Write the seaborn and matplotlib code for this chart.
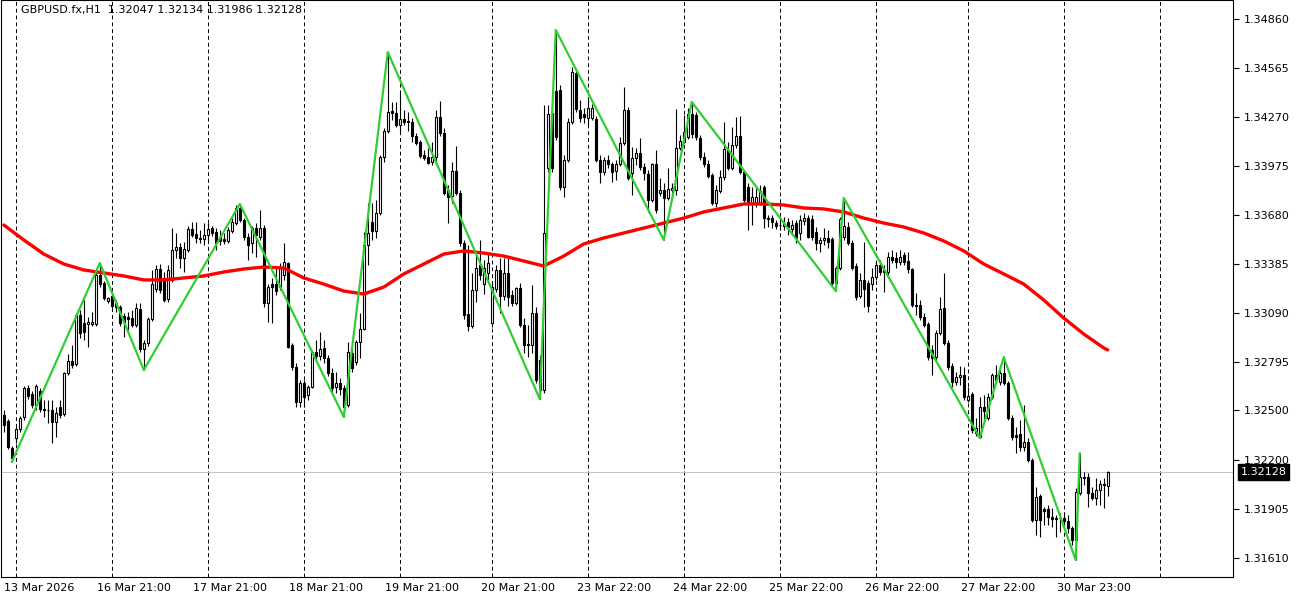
import matplotlib
matplotlib.use("Agg")
import matplotlib.pyplot as plt
import matplotlib.transforms as mtransforms
import numpy as np
import pandas as pd
import seaborn as sns

# ── GBPUSD.fx H1, bar 0 = first bar on the chart (13 Mar 2026) ───────────────
open_ = [
    1.32473, 1.32436, 1.32274, 1.32334, 1.32388, 1.32461, 1.32635, 1.32599, 1.32533, 1.32617, 1.32509, 1.32503,
    1.32503, 1.32430, 1.32521, 1.32479, 1.32726, 1.32798, 1.32780, 1.33076, 1.33027, 1.33021, 1.33021, 1.33021,
    1.33317, 1.33268, 1.33160, 1.33190, 1.33148, 1.33124, 1.33070, 1.33063, 1.33057, 1.33015, 1.33112, 1.32870,
    1.32907, 1.33051, 1.33230, 1.33353, 1.33299, 1.33172, 1.33287, 1.33468, 1.33486, 1.33419, 1.33468, 1.33594,
    1.33564, 1.33540, 1.33534, 1.33558, 1.33600, 1.33576, 1.33546, 1.33534, 1.33522, 1.33582, 1.33630, 1.33721,
    1.33648, 1.33546, 1.33510, 1.33600, 1.33546, 1.33600, 1.33148, 1.33262, 1.33262, 1.33244, 1.33317, 1.33389,
    1.32895, 1.32762, 1.32551, 1.32666, 1.32593, 1.32641, 1.32852, 1.32828, 1.32877, 1.32816, 1.32726, 1.32641,
    1.32666, 1.32635, 1.32533, 1.32846, 1.32792, 1.32913, 1.32991, 1.33498, 1.33636, 1.33582, 1.33691, 1.34028,
    1.34185, 1.34306, 1.34294, 1.34221, 1.34257, 1.34245, 1.34239, 1.34155, 1.34119, 1.34040, 1.34028, 1.33998,
    1.34028, 1.34270, 1.34173, 1.33829, 1.33793, 1.33944, 1.33811, 1.33510, 1.33082, 1.33009, 1.33226, 1.33377,
    1.33262, 1.33329, 1.33027, 1.33232, 1.33347, 1.33190, 1.33329, 1.33196, 1.33148, 1.33238, 1.33015, 1.32901,
    1.32895, 1.33088, 1.32804, 1.32623, 1.33962, 1.34294, 1.34426, 1.34432, 1.33847, 1.34010, 1.34239, 1.34535,
    1.34312, 1.34288, 1.34263, 1.34263, 1.34257, 1.34010, 1.33938, 1.34010, 1.33986, 1.33944, 1.33986, 1.34113,
    1.34312, 1.33932, 1.34022, 1.34052, 1.33968, 1.33926, 1.33769, 1.33986, 1.33811, 1.33829, 1.33781, 1.33829,
    1.33829, 1.34083, 1.34119, 1.34149, 1.34288, 1.34282, 1.34143, 1.34028, 1.33986, 1.33920, 1.33751, 1.33823,
    1.33907, 1.34071, 1.33962, 1.34101, 1.34155, 1.33938, 1.33847, 1.33751, 1.33751, 1.33751, 1.33847, 1.33660,
    1.33660, 1.33630, 1.33618, 1.33612, 1.33636, 1.33594, 1.33630, 1.33570, 1.33642, 1.33660, 1.33654, 1.33576,
    1.33510, 1.33528, 1.33540, 1.33534, 1.33268, 1.33359, 1.33546, 1.33606, 1.33510, 1.33371, 1.33190, 1.33287,
    1.33268, 1.33262, 1.33305, 1.33377, 1.33347, 1.33335, 1.33425, 1.33419, 1.33395, 1.33437, 1.33401, 1.33353,
    1.33136, 1.33136, 1.33063, 1.33021, 1.32865, 1.32822, 1.32967, 1.33118, 1.32907, 1.32768, 1.32672, 1.32702,
    1.32714, 1.32563, 1.32599, 1.32364, 1.32340, 1.32521, 1.32454, 1.32581, 1.32714, 1.32672, 1.32726, 1.32666,
    1.32454, 1.32352, 1.32358, 1.32280, 1.32310, 1.32201, 1.31839, 1.31984, 1.31906, 1.31906, 1.31858, 1.31846,
    1.31852, 1.31852, 1.31834, 1.31792, 1.31719, 1.32002, 1.32093, 1.32099, 1.32002, 1.31972, 1.32020, 1.32057,
    1.32047,
]
high = [
    1.32503, 1.32448, 1.32286, 1.32400, 1.32467, 1.32647, 1.32653, 1.32617, 1.32659, 1.32635, 1.32563, 1.32563,
    1.32563, 1.32521, 1.32563, 1.32732, 1.32840, 1.32895, 1.33088, 1.33106, 1.33166, 1.33063, 1.33094, 1.33347,
    1.33389, 1.33281, 1.33184, 1.33208, 1.33166, 1.33136, 1.33088, 1.33094, 1.33106, 1.33148, 1.33148, 1.32925,
    1.33063, 1.33347, 1.33377, 1.33383, 1.33335, 1.33377, 1.33600, 1.33570, 1.33510, 1.33516, 1.33612, 1.33636,
    1.33636, 1.33588, 1.33630, 1.33630, 1.33612, 1.33600, 1.33588, 1.33570, 1.33606, 1.33660, 1.33739, 1.33745,
    1.33660, 1.33570, 1.33612, 1.33630, 1.33709, 1.33618, 1.33262, 1.33299, 1.33359, 1.33389, 1.33510, 1.33395,
    1.32907, 1.32786, 1.32684, 1.32684, 1.32653, 1.32865, 1.32925, 1.32973, 1.32925, 1.32834, 1.32756, 1.32732,
    1.32696, 1.32653, 1.32913, 1.32883, 1.32925, 1.33088, 1.33576, 1.33751, 1.33751, 1.33769, 1.34040, 1.34203,
    1.34661, 1.34360, 1.34360, 1.34420, 1.34312, 1.34300, 1.34263, 1.34173, 1.34131, 1.34071, 1.34083, 1.34119,
    1.34312, 1.34366, 1.34203, 1.33859, 1.33998, 1.34095, 1.33829, 1.33528, 1.33498, 1.33329, 1.33437, 1.33528,
    1.33407, 1.33449, 1.33275, 1.33377, 1.33419, 1.33419, 1.33419, 1.33226, 1.33244, 1.33268, 1.33057, 1.33015,
    1.33256, 1.33124, 1.32834, 1.34342, 1.34342, 1.34342, 1.34794, 1.34462, 1.34040, 1.34263, 1.34571, 1.34553,
    1.34372, 1.34324, 1.34372, 1.34348, 1.34276, 1.34040, 1.34028, 1.34040, 1.33998, 1.34010, 1.34149, 1.34450,
    1.34330, 1.34089, 1.34083, 1.34143, 1.33992, 1.33950, 1.33992, 1.34071, 1.33901, 1.33871, 1.33962, 1.33871,
    1.34318, 1.34161, 1.34282, 1.34324, 1.34360, 1.34300, 1.34161, 1.34058, 1.34010, 1.33932, 1.33859, 1.33950,
    1.34239, 1.34119, 1.34209, 1.34270, 1.34276, 1.33950, 1.33871, 1.33847, 1.33841, 1.33859, 1.33859, 1.33679,
    1.33679, 1.33648, 1.33660, 1.33666, 1.33660, 1.33648, 1.33648, 1.33679, 1.33691, 1.33679, 1.33679, 1.33606,
    1.33546, 1.33600, 1.33588, 1.33546, 1.33371, 1.33666, 1.33781, 1.33636, 1.33528, 1.33389, 1.33329, 1.33516,
    1.33287, 1.33359, 1.33395, 1.33407, 1.33377, 1.33455, 1.33468, 1.33455, 1.33468, 1.33455, 1.33455, 1.33359,
    1.33208, 1.33166, 1.33088, 1.33033, 1.32895, 1.32985, 1.33184, 1.33329, 1.32925, 1.32786, 1.32732, 1.32768,
    1.32762, 1.32641, 1.32611, 1.32454, 1.32581, 1.32593, 1.32605, 1.32726, 1.32774, 1.32774, 1.32822, 1.32678,
    1.32473, 1.32400, 1.32442, 1.32533, 1.32334, 1.32213, 1.32038, 1.31996, 1.31918, 1.31930, 1.31912, 1.31870,
    1.31882, 1.31888, 1.31870, 1.31804, 1.32032, 1.32243, 1.32129, 1.32123, 1.32038, 1.32093, 1.32081, 1.32093,
    1.32134,
]
low = [
    1.32370, 1.32268, 1.32189, 1.32304, 1.32370, 1.32442, 1.32569, 1.32515, 1.32503, 1.32491, 1.32461, 1.32424,
    1.32304, 1.32340, 1.32454, 1.32467, 1.32714, 1.32756, 1.32768, 1.32937, 1.32925, 1.32883, 1.33009, 1.33009,
    1.33244, 1.33166, 1.33148, 1.33118, 1.33094, 1.33009, 1.32943, 1.32985, 1.33003, 1.33003, 1.32852, 1.32744,
    1.32889, 1.33039, 1.33214, 1.33208, 1.33154, 1.33154, 1.33275, 1.33419, 1.33359, 1.33335, 1.33455, 1.33546,
    1.33510, 1.33510, 1.33498, 1.33528, 1.33552, 1.33468, 1.33498, 1.33504, 1.33510, 1.33570, 1.33618, 1.33636,
    1.33528, 1.33407, 1.33449, 1.33425, 1.33528, 1.33124, 1.33033, 1.33027, 1.33196, 1.33226, 1.33287, 1.32877,
    1.32744, 1.32521, 1.32521, 1.32521, 1.32563, 1.32635, 1.32804, 1.32804, 1.32786, 1.32708, 1.32611, 1.32605,
    1.32593, 1.32461, 1.32521, 1.32732, 1.32774, 1.32816, 1.32985, 1.33377, 1.33528, 1.33540, 1.33679, 1.33998,
    1.34173, 1.34251, 1.34209, 1.34173, 1.34221, 1.34185, 1.34119, 1.34101, 1.34022, 1.34010, 1.33986, 1.33980,
    1.33980, 1.34155, 1.33799, 1.33630, 1.33751, 1.33799, 1.33492, 1.33051, 1.32979, 1.32997, 1.33154, 1.33287,
    1.33202, 1.33275, 1.33003, 1.33214, 1.33088, 1.33166, 1.33130, 1.33130, 1.33136, 1.33003, 1.32846, 1.32822,
    1.32846, 1.32666, 1.32569, 1.32605, 1.33938, 1.33938, 1.34131, 1.33829, 1.33787, 1.33998, 1.34227, 1.34300,
    1.34239, 1.34233, 1.34221, 1.34251, 1.33998, 1.33871, 1.33920, 1.33962, 1.33877, 1.33889, 1.33974, 1.34101,
    1.33889, 1.33799, 1.33980, 1.33950, 1.33889, 1.33697, 1.33757, 1.33691, 1.33793, 1.33528, 1.33769, 1.33769,
    1.33799, 1.34071, 1.34113, 1.34137, 1.34143, 1.34131, 1.34010, 1.33968, 1.33901, 1.33739, 1.33727, 1.33811,
    1.33889, 1.33950, 1.33950, 1.34083, 1.33926, 1.33757, 1.33588, 1.33618, 1.33727, 1.33739, 1.33600, 1.33606,
    1.33600, 1.33594, 1.33588, 1.33588, 1.33558, 1.33558, 1.33510, 1.33528, 1.33618, 1.33540, 1.33528, 1.33468,
    1.33455, 1.33498, 1.33480, 1.33256, 1.33220, 1.33347, 1.33528, 1.33498, 1.33347, 1.33166, 1.33178, 1.33124,
    1.33094, 1.33226, 1.33287, 1.33317, 1.33214, 1.33317, 1.33389, 1.33359, 1.33377, 1.33377, 1.33329, 1.33124,
    1.33076, 1.33045, 1.33003, 1.32804, 1.32714, 1.32804, 1.32955, 1.32895, 1.32744, 1.32641, 1.32653, 1.32653,
    1.32563, 1.32551, 1.32364, 1.32346, 1.32334, 1.32442, 1.32442, 1.32569, 1.32666, 1.32653, 1.32653, 1.32442,
    1.32322, 1.32243, 1.32255, 1.32255, 1.32189, 1.31827, 1.31749, 1.31737, 1.31809, 1.31809, 1.31797, 1.31737,
    1.31767, 1.31779, 1.31761, 1.31689, 1.31598, 1.31990, 1.32051, 1.31918, 1.31960, 1.31930, 1.31930, 1.31912,
    1.31986,
]
close = [
    1.32412, 1.32280, 1.32213, 1.32388, 1.32454, 1.32635, 1.32587, 1.32533, 1.32647, 1.32509, 1.32503, 1.32500,
    1.32430, 1.32485, 1.32473, 1.32726, 1.32798, 1.32774, 1.33076, 1.32967, 1.32973, 1.33033, 1.33033, 1.33317,
    1.33262, 1.33178, 1.33178, 1.33130, 1.33124, 1.33027, 1.33033, 1.33051, 1.33015, 1.33118, 1.32870, 1.32907,
    1.33051, 1.33262, 1.33353, 1.33226, 1.33166, 1.33347, 1.33468, 1.33486, 1.33419, 1.33474, 1.33594, 1.33558,
    1.33540, 1.33534, 1.33558, 1.33594, 1.33570, 1.33510, 1.33522, 1.33522, 1.33588, 1.33636, 1.33721, 1.33648,
    1.33546, 1.33498, 1.33600, 1.33558, 1.33600, 1.33148, 1.33244, 1.33244, 1.33220, 1.33359, 1.33395, 1.32883,
    1.32762, 1.32551, 1.32666, 1.32581, 1.32641, 1.32852, 1.32828, 1.32870, 1.32816, 1.32726, 1.32635, 1.32666,
    1.32629, 1.32521, 1.32852, 1.32756, 1.32913, 1.32991, 1.33498, 1.33570, 1.33582, 1.33691, 1.34028, 1.34185,
    1.34300, 1.34294, 1.34221, 1.34257, 1.34239, 1.34239, 1.34155, 1.34113, 1.34034, 1.34022, 1.33992, 1.34028,
    1.34270, 1.34173, 1.33811, 1.33787, 1.33944, 1.33811, 1.33510, 1.33076, 1.33009, 1.33226, 1.33359, 1.33317,
    1.33359, 1.33389, 1.33244, 1.33347, 1.33190, 1.33329, 1.33184, 1.33148, 1.33238, 1.33015, 1.32895, 1.32895,
    1.33088, 1.32684, 1.32623, 1.33570, 1.34288, 1.33962, 1.34149, 1.33847, 1.34010, 1.34239, 1.34541, 1.34318,
    1.34263, 1.34270, 1.34324, 1.34324, 1.34010, 1.33938, 1.34010, 1.33986, 1.33938, 1.33986, 1.34113, 1.34312,
    1.33901, 1.34022, 1.34052, 1.33968, 1.33932, 1.33769, 1.33986, 1.33709, 1.33829, 1.33781, 1.33835, 1.33841,
    1.34083, 1.34125, 1.34179, 1.34288, 1.34167, 1.34149, 1.34028, 1.33986, 1.33913, 1.33751, 1.33829, 1.33907,
    1.34077, 1.33962, 1.34101, 1.34155, 1.33938, 1.33769, 1.33751, 1.33787, 1.33787, 1.33823, 1.33660, 1.33657,
    1.33636, 1.33612, 1.33620, 1.33624, 1.33606, 1.33618, 1.33540, 1.33648, 1.33660, 1.33546, 1.33546, 1.33510,
    1.33528, 1.33540, 1.33516, 1.33268, 1.33359, 1.33654, 1.33612, 1.33510, 1.33359, 1.33184, 1.33287, 1.33232,
    1.33130, 1.33305, 1.33377, 1.33335, 1.33335, 1.33425, 1.33407, 1.33395, 1.33425, 1.33395, 1.33353, 1.33136,
    1.33130, 1.33063, 1.33015, 1.32822, 1.32816, 1.32967, 1.33112, 1.32907, 1.32762, 1.32672, 1.32702, 1.32714,
    1.32581, 1.32587, 1.32382, 1.32394, 1.32521, 1.32497, 1.32581, 1.32714, 1.32684, 1.32726, 1.32666, 1.32454,
    1.32340, 1.32340, 1.32280, 1.32310, 1.32201, 1.31839, 1.31978, 1.31839, 1.31894, 1.31858, 1.31846, 1.31852,
    1.31849, 1.31834, 1.31792, 1.31719, 1.32008, 1.32099, 1.32099, 1.32002, 1.31972, 1.32020, 1.32057, 1.32051,
    1.32128,
]

# moving average (red), read every 5 bars
ma_bar = list(range(0, 276, 5)) + [276]
ma_value = [
    1.33618, 1.33528, 1.33443, 1.33383, 1.33347, 1.33329, 1.33311, 1.33287, 1.33287, 1.33299,
    1.33311, 1.33335, 1.33353, 1.33365, 1.33359, 1.33299, 1.33262, 1.33220, 1.33202, 1.33244,
    1.33323, 1.33383, 1.33443, 1.33462, 1.33449, 1.33431, 1.33401, 1.33371, 1.33431, 1.33504,
    1.33540, 1.33570, 1.33600, 1.33630, 1.33660, 1.33697, 1.33721, 1.33745, 1.33745, 1.33739,
    1.33721, 1.33715, 1.33697, 1.33660, 1.33630, 1.33606, 1.33570, 1.33522, 1.33462, 1.33383,
    1.33323, 1.33262, 1.33166, 1.33057, 1.32961, 1.32877, 1.32865,
]

# zigzag (green) turning points
zz_bar = [2, 24, 35, 59, 85, 96, 134, 138, 165, 172, 208, 210, 244, 250, 268, 269]
zz_price = [1.32189, 1.33389, 1.32744, 1.33745, 1.32461, 1.34661, 1.32569, 1.34794,
            1.33528, 1.34360, 1.33220, 1.33781, 1.32334, 1.32822, 1.31598, 1.32243]

price_ticks = [1.34860, 1.34565, 1.34270, 1.33975, 1.33680, 1.33385,
               1.33090, 1.32795, 1.32500, 1.32200, 1.31905, 1.31610]
time_labels = ["13 Mar 2026", "16 Mar 21:00", "17 Mar 21:00", "18 Mar 21:00",
               "19 Mar 21:00", "20 Mar 21:00", "23 Mar 22:00", "24 Mar 22:00",
               "25 Mar 22:00", "26 Mar 22:00", "27 Mar 22:00", "30 Mar 23:00"]
time_label_bar = [0, 23.4, 47.4, 71.4, 95.4, 119.4, 143.4, 167.4, 191.4, 215.4, 239.4, 263.4]
grid_bar = [3, 27, 51, 75, 99, 122, 146, 170, 194, 218, 241, 265, 289]

sns.set_style("white")
plt.rcParams["font.family"] = ["DejaVu Sans"]

df = pd.DataFrame({"open": open_, "high": high, "low": low, "close": close})
df["bar"] = np.arange(len(df))
up = df["close"] >= df["open"]

fig = plt.figure(figsize=(13, 6), dpi=100)
ax = fig.add_axes([0.0004, 23 / 600, 1232 / 1300, 577 / 600])

# grid + last price line
for gb in grid_bar:
    ax.axvline(gb, color="black", lw=0.7, ls=(0, (4, 3)), zorder=1)
ax.axhline(close[-1], color="#C0C0C0", lw=0.7, zorder=1)

# candles
ax.vlines(df["bar"], df["low"], df["high"], color="black", lw=0.8, zorder=2)
body_lo = df[["open", "close"]].min(axis=1)
body_h = (df["close"] - df["open"]).abs().clip(lower=0.000015)
ax.bar(df["bar"], body_h, bottom=body_lo, width=0.55,
       color=np.where(up, "white", "black"), edgecolor="black", linewidth=0.8,
       zorder=3)

# indicators
sns.lineplot(x=ma_bar, y=ma_value, color="#FF0000", lw=2.4, ax=ax, zorder=4)
sns.lineplot(x=zz_bar, y=zz_price, color="#32CD32", lw=1.6, ax=ax, zorder=5)

ax.set_xlim(-0.825, 307.2)
ax.set_ylim(1.314957, 1.34975)
ax.set_xlabel(""); ax.set_ylabel("")

ax.yaxis.tick_right()
ax.set_yticks(price_ticks)
ax.set_yticklabels([f"{p:.5f}" for p in price_ticks])
ax.tick_params(axis="y", direction="out", length=4, width=0.8, pad=4,
               labelsize=8, colors="black")
ax.set_xticks(time_label_bar)
ax.set_xticklabels(time_labels, ha="left")
ax.tick_params(axis="x", direction="out", length=3, width=0.8, pad=1,
               labelsize=8, colors="black")
for sp in ax.spines.values():
    sp.set_color("black"); sp.set_linewidth(0.8); sp.set_visible(True)

# header and current price tag
ax.text(20 / 1232, 1 - 5 / 577, "GBPUSD.fx,H1  1.32047 1.32134 1.31986 1.32128",
        transform=ax.transAxes, ha="left", va="top", fontsize=8, color="black")
tr = mtransforms.blended_transform_factory(ax.transAxes, ax.transData)
ax.text(1.0 + 8 / 1232, close[-1], f"{close[-1]:.5f}", transform=tr, ha="left",
        va="center", fontsize=8, color="white",
        bbox=dict(boxstyle="square,pad=0.25", fc="black", ec="black"))

fig.savefig("out.png", dpi=100)
